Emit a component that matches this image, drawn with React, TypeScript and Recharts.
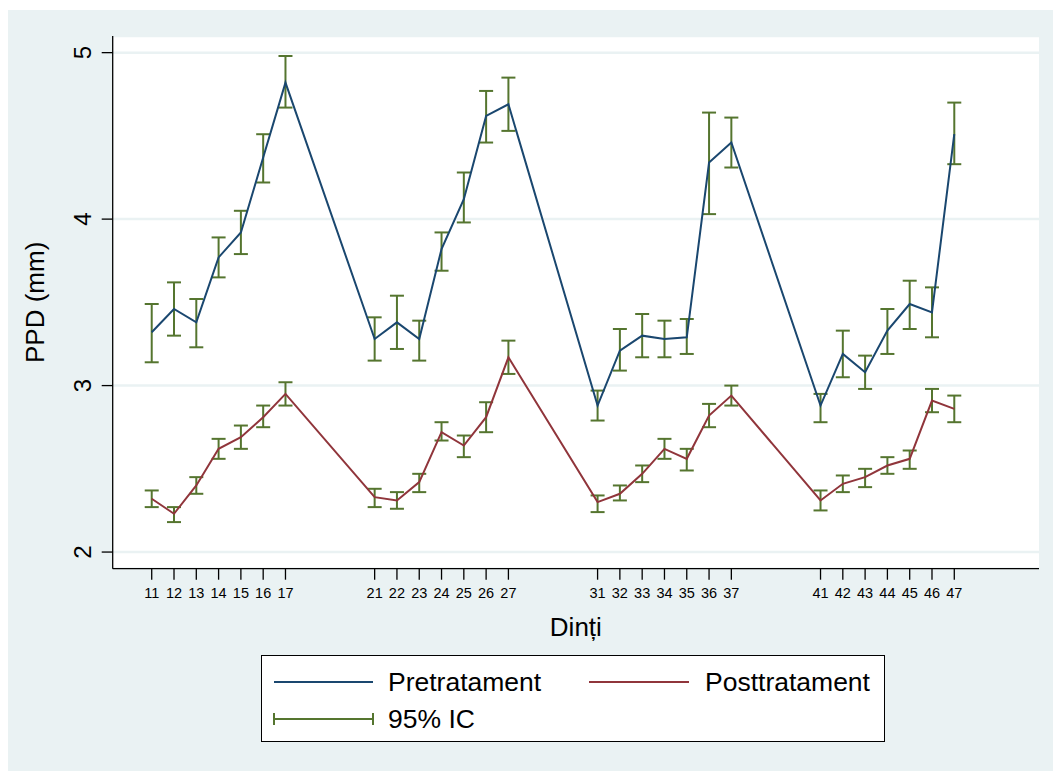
import {
  CartesianGrid,
  ComposedChart,
  ErrorBar,
  Line,
  XAxis,
  YAxis,
} from "recharts";

// Tooth numbers (FDI), mean PPD per tooth with 95% CI bounds
const teeth = [
  11, 12, 13, 14, 15, 16, 17,
  21, 22, 23, 24, 25, 26, 27,
  31, 32, 33, 34, 35, 36, 37,
  41, 42, 43, 44, 45, 46, 47,
];

const pre = [
  3.32, 3.46, 3.38, 3.77, 3.92, 4.37, 4.82,
  3.28, 3.38, 3.28, 3.82, 4.12, 4.62, 4.69,
  2.88, 3.21, 3.30, 3.28, 3.29, 4.34, 4.46,
  2.88, 3.19, 3.08, 3.33, 3.49, 3.44, 4.51,
];
const preLow = [
  3.14, 3.30, 3.23, 3.65, 3.79, 4.22, 4.67,
  3.15, 3.22, 3.15, 3.69, 3.98, 4.46, 4.53,
  2.79, 3.09, 3.17, 3.17, 3.19, 4.03, 4.31,
  2.78, 3.05, 2.98, 3.19, 3.34, 3.29, 4.33,
];
const preHigh = [
  3.49, 3.62, 3.52, 3.89, 4.05, 4.51, 4.98,
  3.41, 3.54, 3.39, 3.92, 4.28, 4.77, 4.85,
  2.97, 3.34, 3.43, 3.39, 3.40, 4.64, 4.61,
  2.95, 3.33, 3.18, 3.46, 3.63, 3.59, 4.70,
];

const post = [
  2.32, 2.23, 2.40, 2.62, 2.69, 2.81, 2.95,
  2.33, 2.31, 2.42, 2.72, 2.64, 2.81, 3.17,
  2.30, 2.35, 2.47, 2.62, 2.56, 2.82, 2.94,
  2.31, 2.41, 2.45, 2.52, 2.56, 2.91, 2.86,
];
const postLow = [
  2.27, 2.18, 2.35, 2.56, 2.62, 2.75, 2.88,
  2.27, 2.26, 2.36, 2.67, 2.57, 2.72, 3.07,
  2.24, 2.31, 2.42, 2.56, 2.49, 2.75, 2.88,
  2.25, 2.36, 2.39, 2.47, 2.50, 2.84, 2.78,
];
const postHigh = [
  2.37, 2.27, 2.45, 2.68, 2.76, 2.88, 3.02,
  2.38, 2.36, 2.47, 2.78, 2.70, 2.90, 3.27,
  2.34, 2.40, 2.52, 2.68, 2.62, 2.89, 3.00,
  2.37, 2.46, 2.50, 2.57, 2.61, 2.98, 2.94,
];

const yTicks = [2, 3, 4, 5];

const data = teeth.map((tooth, i) => ({
  tooth,
  pre: pre[i],
  preCi: [pre[i] - preLow[i], preHigh[i] - pre[i]],
  post: post[i],
  postCi: [post[i] - postLow[i], postHigh[i] - post[i]],
}));

const BLUE = "#1a476f";
const RED = "#90353b";
const GREEN = "#55752f";
const BG = "#eaf2f3";
const FONT = "'Liberation Sans', Arial, Helvetica, sans-serif";

function YTick({ x, y, payload }: any) {
  return (
    <text
      transform={`translate(${x - 9},${y}) rotate(-90)`}
      textAnchor="middle"
      fontSize={24}
      fontFamily={FONT}
      fill="#000"
    >
      {payload.value}
    </text>
  );
}

function ChartLegend() {
  return (
    <div
      style={{
        position: "absolute",
        left: 253,
        top: 645,
        width: 624,
        height: 87,
        background: "#fff",
        border: "1.5px solid #000",
        boxSizing: "border-box",
      }}
    >
      <svg width={624} height={87} style={{ display: "block" }}>
        <g fontFamily={FONT} fontSize={26.5} fill="#000">
          <line x1={12} x2={111} y1={26} y2={26} stroke={BLUE} strokeWidth={2} />
          <text x={126} y={26} dominantBaseline="central">
            Pretratament
          </text>
          <line x1={327} x2={427} y1={26} y2={26} stroke={RED} strokeWidth={2} />
          <text x={443} y={26} dominantBaseline="central">
            Posttratament
          </text>
          <g stroke={GREEN} strokeWidth={2}>
            <line x1={12} x2={111} y1={63} y2={63} />
            <line x1={12} x2={12} y1={57} y2={69} />
            <line x1={111} x2={111} y1={57} y2={69} />
          </g>
          <text x={126} y={63} dominantBaseline="central">
            95% IC
          </text>
        </g>
      </svg>
    </div>
  );
}

export default function App() {
  return (
    <div
      style={{
        position: "fixed",
        left: 8,
        top: 10,
        width: 1045,
        height: 761,
        background: BG,
        fontFamily: FONT,
      }}
    >
      <ComposedChart
        width={1045}
        height={761}
        data={data}
        margin={{ top: 26, right: 14, bottom: 153.3, left: 0 }}
      >
        <CartesianGrid
          vertical={false}
          stroke={BG}
          strokeWidth={2.5}
          fill="#fff"
        />
        <XAxis
          dataKey="tooth"
          type="number"
          domain={[9.25, 50.8]}
          ticks={teeth}
          interval={0}
          height={49}
          tickSize={11}
          tickMargin={8}
          tick={{ fontSize: 14.5, fill: "#000", fontFamily: FONT }}
          axisLine={{ stroke: "#000", strokeWidth: 1.3 }}
          tickLine={{ stroke: "#000", strokeWidth: 1.3 }}
          label={{
            value: "Dinți",
            position: "bottom",
            offset: 0,
            fontSize: 26,
            fill: "#000",
            fontFamily: FONT,
          }}
        />
        <YAxis
          type="number"
          domain={[1.9, 5.1]}
          ticks={yTicks}
          width={104.7}
          tickSize={11}
          tick={<YTick />}
          axisLine={{ stroke: "#000", strokeWidth: 1.3 }}
          tickLine={{ stroke: "#000", strokeWidth: 1.3 }}
          label={{
            value: "PPD (mm)",
            angle: -90,
            position: "insideLeft",
            offset: 27,
            fontSize: 26,
            fill: "#000",
            fontFamily: FONT,
            style: { textAnchor: "middle" },
          }}
        />
        <Line
          type="linear"
          dataKey="pre"
          stroke={BLUE}
          strokeWidth={2}
          dot={false}
          isAnimationActive={false}
        >
          <ErrorBar
            dataKey="preCi"
            direction="y"
            width={7}
            stroke={GREEN}
            strokeWidth={2}
          />
        </Line>
        <Line
          type="linear"
          dataKey="post"
          stroke={RED}
          strokeWidth={2}
          dot={false}
          isAnimationActive={false}
        >
          <ErrorBar
            dataKey="postCi"
            direction="y"
            width={7}
            stroke={GREEN}
            strokeWidth={2}
          />
        </Line>
      </ComposedChart>
      <ChartLegend />
    </div>
  );
}
